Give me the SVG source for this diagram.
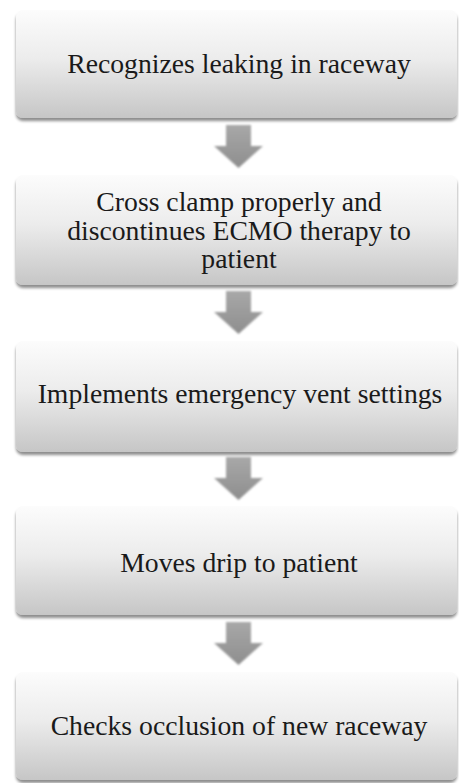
<svg xmlns="http://www.w3.org/2000/svg" width="459" height="783" viewBox="0 0 459 783">
<defs>
<linearGradient id="boxg" x1="0" y1="0" x2="0" y2="1">
<stop offset="0" stop-color="#fcfcfc"/>
<stop offset="0.45" stop-color="#ececec"/>
<stop offset="1" stop-color="#c6c6c6"/>
</linearGradient>
<linearGradient id="arrg" x1="0" y1="0" x2="0" y2="1">
<stop offset="0" stop-color="#a8a8a8"/>
<stop offset="1" stop-color="#8e8e8e"/>
</linearGradient>
<filter id="sh" x="-5%" y="-10%" width="110%" height="125%">
<feGaussianBlur in="SourceAlpha" stdDeviation="1.5"/>
<feOffset dx="0" dy="2.5" result="b"/>
<feComponentTransfer><feFuncA type="linear" slope="0.45"/></feComponentTransfer>
<feMerge><feMergeNode/><feMergeNode in="SourceGraphic"/></feMerge>
</filter>
<filter id="ash" x="-20%" y="-20%" width="140%" height="140%">
<feGaussianBlur stdDeviation="0.8"/>
</filter>
<path id="arrow" d="M-12.5,0 H12.5 V21 H24.5 L0,43 L-24.5,21 H-12.5 Z"/>
</defs>
<style>
.box{fill:url(#boxg);filter:url(#sh)}
.lbl{font-family:"Liberation Serif","Times New Roman",serif;font-size:27.7px;fill:#1a1a1a;text-anchor:middle}
.arr{fill:url(#arrg);filter:url(#ash)}
</style>
<g id="connectors">
<use href="#arrow" class="arr" x="238.5" y="125"/>
<use href="#arrow" class="arr" x="238.5" y="291"/>
<use href="#arrow" class="arr" x="238.5" y="457"/>
<use href="#arrow" class="arr" x="238.5" y="622"/>
</g>
<g id="n1">
<rect class="box" x="16" y="10" width="441" height="108" rx="7"/>
<text class="lbl" x="239" y="73">Recognizes leaking in raceway</text>
</g>
<g id="n2">
<rect class="box" x="16" y="175" width="441" height="110" rx="7"/>
<text class="lbl" x="239" y="211">Cross clamp properly and</text>
<text class="lbl" x="239" y="240">discontinues ECMO therapy to</text>
<text class="lbl" x="239" y="268">patient</text>
</g>
<g id="n3">
<rect class="box" x="16" y="341" width="441" height="111" rx="7"/>
<text class="lbl" x="240" y="403">Implements emergency vent settings</text>
</g>
<g id="n4">
<rect class="box" x="16" y="506" width="441" height="109" rx="7"/>
<text class="lbl" x="239" y="572">Moves drip to patient</text>
</g>
<g id="n5">
<rect class="box" x="16" y="672" width="441" height="108" rx="7"/>
<text class="lbl" x="239" y="735">Checks occlusion of new raceway</text>
</g>
</svg>
